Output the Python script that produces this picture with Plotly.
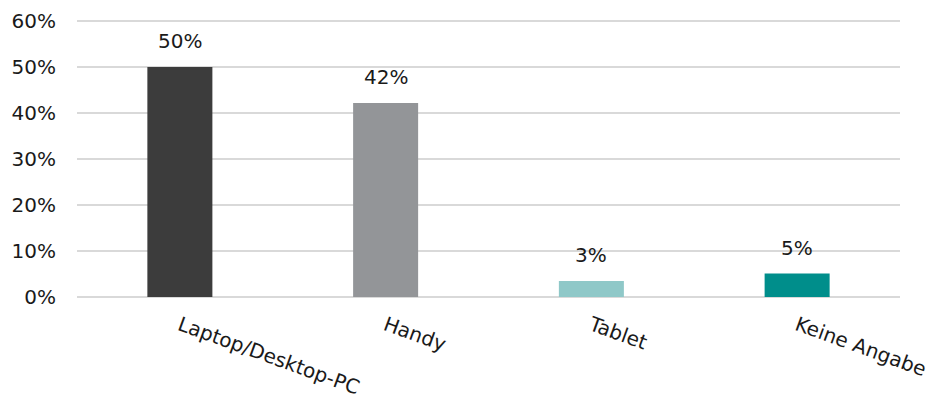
import plotly.graph_objects as go

categories = ["Laptop/Desktop-PC", "Handy", "Tablet", "Keine Angabe"]
values = [50, 42.2, 3.5, 5.1]
labels = ["50%", "42%", "3%", "5%"]
colors = ["#3c3c3c", "#939598", "#8fc8c8", "#008e8b"]
ytick_values = [0, 10, 20, 30, 40, 50, 60]
ytick_labels = ["0%", "10%", "20%", "30%", "40%", "50%", "60%"]

# page body has an 8px margin, so the figure is drawn 8px in from the corner
fig = go.Figure()
fig.add_trace(go.Bar(
    x=categories, y=values, marker=dict(color=colors, line=dict(width=0)),
    width=0.316, hoverinfo="skip",
))
for c, v, t in zip(categories, values, labels):
    fig.add_annotation(x=c, y=v, text=t, showarrow=False, yanchor="bottom",
                       yshift=12, font=dict(size=20, color="#1a1a1a"))

fig.update_layout(
    width=928, height=406,
    margin=dict(l=69, r=36, t=12, b=117),
    paper_bgcolor="white", plot_bgcolor="white",
    font=dict(family="DejaVu Sans", size=20, color="#1a1a1a"),
    showlegend=False,
)
fig.update_xaxes(tickangle=20, showgrid=False, showline=False, ticks="",
                 tickfont=dict(size=20), automargin=False,
                 ticklabelstandoff=12)
fig.update_yaxes(range=[0, 60.25], tickmode="array", tickvals=ytick_values,
                 ticktext=ytick_labels, showgrid=True,
                 gridcolor="#d9d9d9", gridwidth=2, zeroline=True,
                 zerolinecolor="#d9d9d9", zerolinewidth=2,
                 ticklabelstandoff=20, automargin=False)

fig.write_html("out.html")
